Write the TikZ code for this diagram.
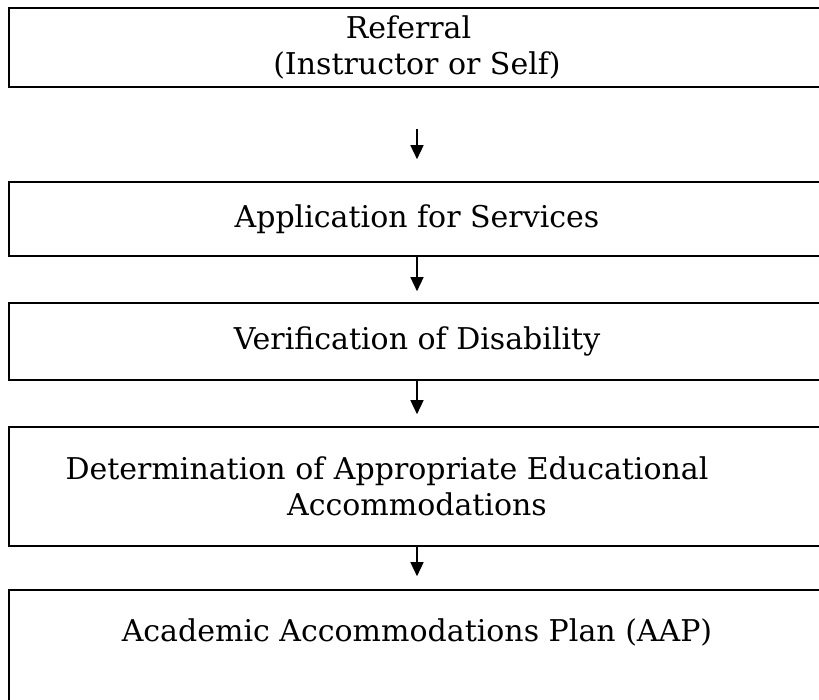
\documentclass[tikz,border=0pt]{standalone}
\usepackage{fontspec}
\setmainfont{DejaVu Serif}
\usetikzlibrary{arrows.meta}

\begin{document}
\begin{tikzpicture}[x=1pt, y=-1pt,
  stepbox/.style={draw, line width=1.6pt, minimum width=816pt, inner sep=4pt,
    align=center, font=\fontsize{30}{36}\selectfont},
  flow/.style={line width=1.4pt, -{Triangle[width=13pt,length=14pt]}}]

\useasboundingbox (0,0) rectangle (819,700);
\clip (0,0) rectangle (819,700);

% Referral box at the top
\node[stepbox, minimum height=79pt] (referral) at (417,47.5)
  {Referral\hspace*{17pt}\\(Instructor or Self)};

% Application and verification
\node[stepbox, minimum height=74pt] (application) at (417,219) {Application for Services};
\node[stepbox, minimum height=77pt] (verification) at (417,341.5) {Verification of Disability};

% Determination of accommodations
\node[stepbox, minimum height=119pt] (determination) at (417,486.5)
  {Determination of Appropriate Educational\hspace*{60pt}\\Accommodations};

% Plan box, runs past the bottom edge
\node[stepbox, minimum height=130pt, text height=20pt, text depth=48pt] (plan) at (417,655)
  {Academic Accommodations Plan (AAP)};

% Arrows between the steps
\draw[flow, shorten <=41pt, shorten >=22pt] (referral) -- (application);
\draw[flow, shorten >=11pt] (application) -- (verification);
\draw[flow, shorten >=12pt] (verification) -- (determination);
\draw[flow, shorten >=13pt] (determination) -- (plan);

\end{tikzpicture}
\end{document}
